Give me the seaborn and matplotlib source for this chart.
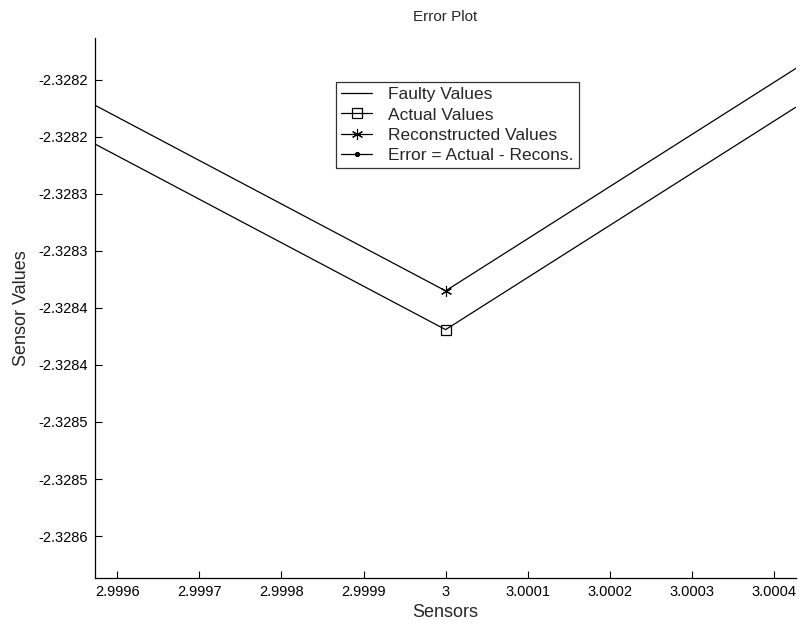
import pandas as pd
import matplotlib
matplotlib.use('Agg')
import matplotlib.pyplot as plt
import seaborn as sns

# sensor index and the values at each sensor
sensors = [2, 3, 4]
faulty_values = [-1.947369, -2.200000, -1.871369]
actual_values = [-1.947369, -2.328369, -1.871369]
reconstructed_values = [-1.947335, -2.328335, -1.871335]
error_values = [-0.000034, -0.000034, -0.000034]

xtick_values = [2.9996, 2.9997, 2.9998, 2.9999, 3.0, 3.0001, 3.0002, 3.0003, 3.0004]
xtick_labels = ['2.9996', '2.9997', '2.9998', '2.9999', '3', '3.0001', '3.0002', '3.0003', '3.0004']
ytick_values = [-2.32815, -2.32820, -2.32825, -2.32830, -2.32835,
                -2.32840, -2.32845, -2.32850, -2.32855]
ytick_labels = ['-2.3282', '-2.3282', '-2.3283', '-2.3283', '-2.3284',
                '-2.3284', '-2.3285', '-2.3285', '-2.3286']

sns.set_style('white')
plt.rcParams['font.family'] = ['Liberation Sans', 'DejaVu Sans']

df = pd.DataFrame({'sensor': sensors, 'faulty': faulty_values, 'actual': actual_values,
                   'recon': reconstructed_values, 'error': error_values})

fig = plt.figure(figsize=(8, 6.39), dpi=100)
ax = fig.add_axes([0.119, 0.0955, 0.876, 0.8451])

asterisk = (6, 2, 0)
sns.lineplot(data=df, x='sensor', y='faulty', ax=ax, color='k', lw=0.9,
             label='Faulty Values')
sns.lineplot(data=df, x='sensor', y='actual', ax=ax, color='k', lw=0.9,
             marker='s', markersize=7, markerfacecolor='none', markeredgecolor='k',
             markeredgewidth=0.9, label='Actual Values')
sns.lineplot(data=df, x='sensor', y='recon', ax=ax, color='k', lw=0.9,
             marker=asterisk, markersize=8, markeredgecolor='k', markeredgewidth=0.8,
             label='Reconstructed Values')
sns.lineplot(data=df, x='sensor', y='error', ax=ax, color='k', lw=0.9,
             marker='o', markersize=3, markeredgecolor='k', markerfacecolor='k',
             label='Error = Actual - Recons.')

ax.set_xlim(2.999573, 3.000427)
ax.set_ylim(-2.3285868, -2.3281132)
ax.set_xticks(xtick_values)
ax.set_xticklabels(xtick_labels)
ax.set_yticks(ytick_values)
ax.set_yticklabels(ytick_labels)
ax.tick_params(direction='in', length=5, width=0.8, labelsize=10.5, colors='k',
               left=True, bottom=True, pad=5)

sns.despine(ax=ax)
for side in ['left', 'bottom']:
    ax.spines[side].set_color('k')
    ax.spines[side].set_linewidth(0.9)

ax.set_title('Error Plot', fontsize=11, pad=12)
ax.set_xlabel('Sensors', fontsize=13, labelpad=4)
ax.set_ylabel('Sensor Values', fontsize=13, labelpad=6)

leg = ax.legend(loc='upper left', bbox_to_anchor=(0.42, 0.872),
                bbox_transform=fig.transFigure, frameon=True, fancybox=False,
                fontsize=12.5, handlelength=1.8, handletextpad=0.9,
                borderpad=0.3, labelspacing=0.3, borderaxespad=0)
leg.get_frame().set_edgecolor('k')
leg.get_frame().set_linewidth(0.9)

plt.savefig('out.png', dpi=100)
